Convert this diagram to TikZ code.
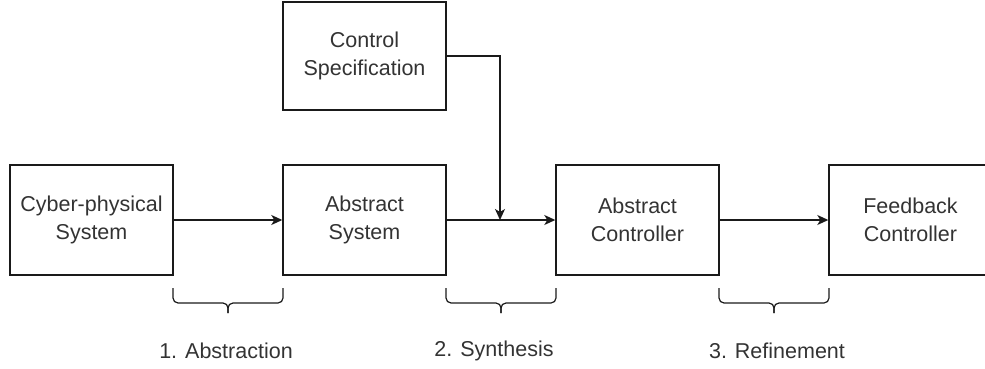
\documentclass[tikz,border=0pt]{standalone}
\usepackage{fontspec}
\setmainfont{Liberation Sans}
\usetikzlibrary{arrows.meta}
\definecolor{txt}{HTML}{333333}
\definecolor{ln}{HTML}{1A1A1A}
\begin{document}
\begin{tikzpicture}[x=1pt,y=-1pt,
  box/.style={draw=ln,line width=1.4pt,minimum width=163pt,minimum height=110pt,inner sep=0pt,
    align=center,text=txt,font=\fontsize{21.5}{28}\selectfont},
  lbl/.style={text=txt,font=\fontsize{21.5}{28}\selectfont,inner sep=0pt},
  conn/.style={draw=ln,line width=1.4pt,-{Stealth[length=11pt,width=10pt,inset=3pt]}},
  brc/.style={draw=ln,line width=1.2pt,rounded corners=5pt}]
\useasboundingbox (0,0) rectangle (985,369);
\clip (0,0) rectangle (985,369);
\node[box] (cps) at (91.5,220) {Cyber-physical\\System};
\node[box] (as) at (364.5,220) {Abstract\\System};
\node[box] (ac) at (637.5,220) {Abstract\\Controller};
\node[box] (fc) at (910.5,220) {Feedback\\Controller};
\node[box,minimum height=108pt] (cs) at (364.5,56) {Control\\Specification};
\coordinate (j) at (500,220);
\draw[conn] (cps) -- (as);
\draw[conn] (as) -- (ac);
\draw[conn] (ac) -- (fc);
\draw[conn] (cs.east) -| (j);
% braces
\foreach \a/\b in {173/283,446/556,719/829}{
  \pgfmathsetmacro{\m}{(\a+\b)/2}
  \draw[brc] (\a,288) -- (\a,303) -- (\m,303) -- (\m,313);
  \draw[brc] (\b,288) -- (\b,303) -- (\m,303) -- (\m,313);
}
\node[lbl] (l1) at (226,351) {1. Abstraction};
\node[lbl] (l2) at (494,351) {2. Synthesis};
\node[lbl] (l3) at (777,351) {3. Refinement};
\end{tikzpicture}
\end{document}
